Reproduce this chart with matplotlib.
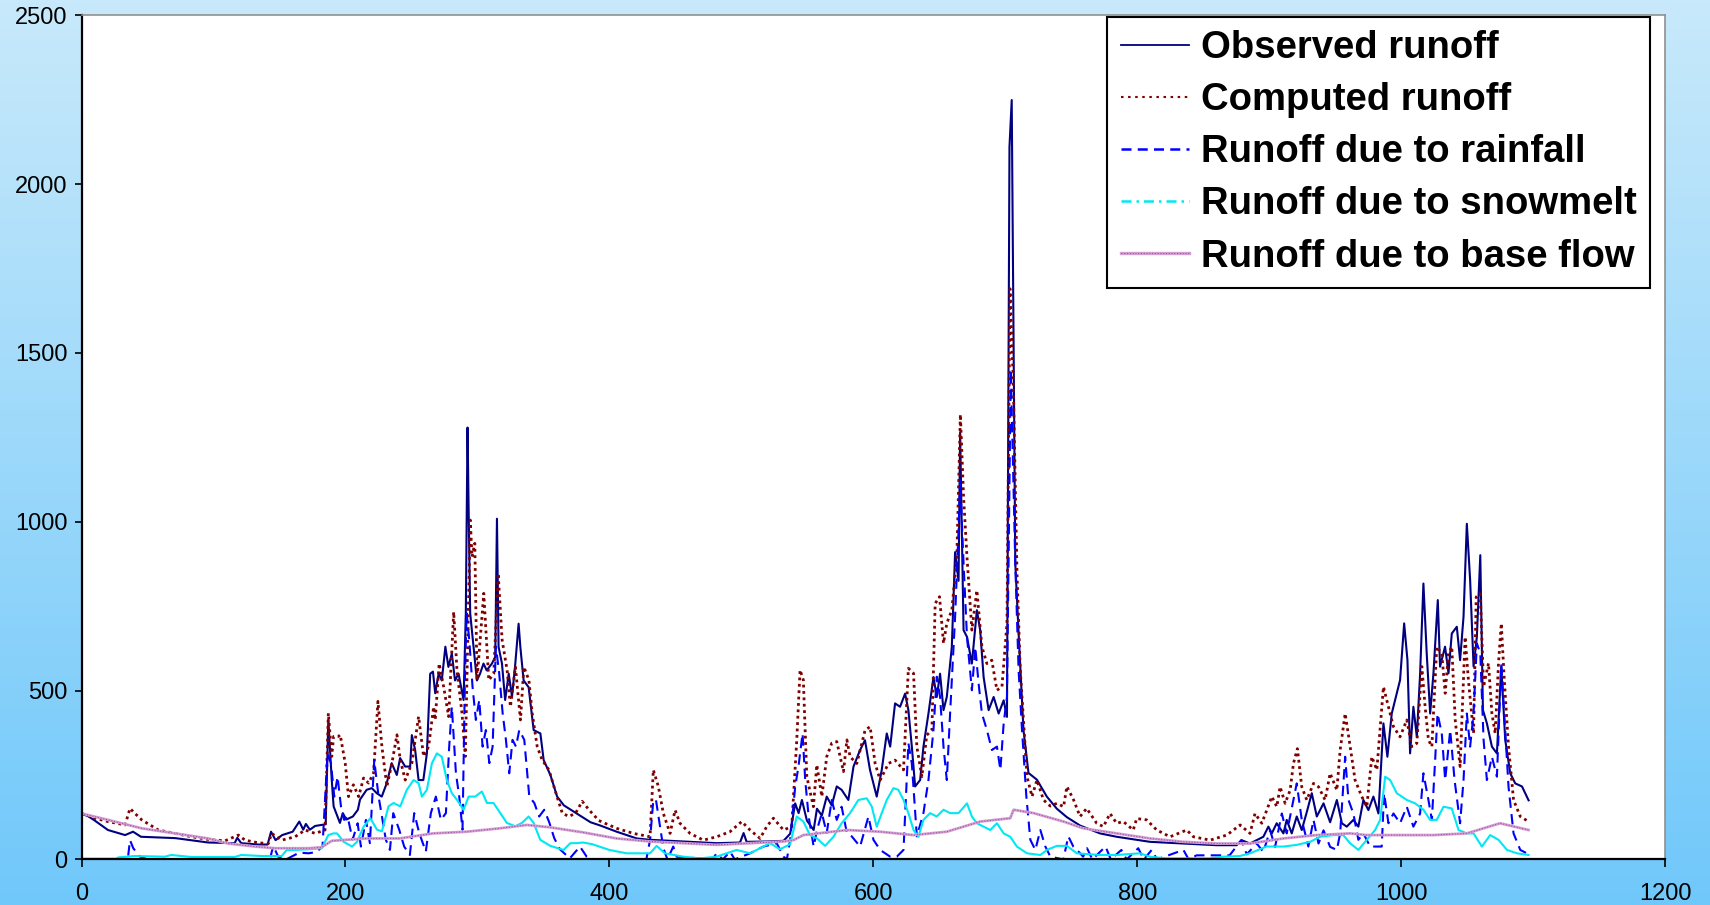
import numpy as np
import matplotlib
matplotlib.use("Agg")
import matplotlib.pyplot as plt
from matplotlib.lines import Line2D

plt.rcParams['font.family'] = ['Liberation Sans', 'DejaVu Sans']

# ---------------- data (day, runoff) ----------------
obs_day = [0, 5, 10, 20, 33, 39, 45, 71, 96, 116,
           118, 121, 134, 141, 143.6, 147, 152, 160, 165, 168,
           170, 173, 177, 182, 185, 187, 189.6, 191, 195.8, 198,
           200.6, 205.6, 209.4, 211, 216, 220, 223.7, 227.5, 231.3, 235,
           238.9, 241.4, 245.2, 249, 250.3, 252.8, 255.4, 259, 261.7, 264.2,
           266.3, 268, 270.6, 273, 275.7, 278, 280.6, 283, 285.7, 289.5,
           291.2, 292.5, 293.3, 294.5, 297, 299.6, 302, 304.6, 307, 311,
           313.5, 314.8, 316, 318.6, 321, 323.7, 326.2, 328.7, 331.2, 332.5,
           335, 338.8, 342.6, 347.7, 350.2, 355.3, 360.4, 365.5, 375.6, 385.7,
           393.3, 405.5, 420.7, 430.8, 456, 481.4, 499, 501.7, 504, 519.4,
           532, 537, 540.8, 543.4, 545.9, 549.7, 554.8, 557.3, 561, 564.7,
           568.5, 572.3, 576, 581.1, 585, 590, 593.7, 597.5, 602.6, 606.4,
           610.2, 612.8, 616.5, 620.3, 624.1, 626.6, 629.2, 631.7, 635.5, 638,
           641.8, 645.6, 648.1, 650.6, 653.2, 655.7, 659.5, 662, 664.6, 665.8,
           668.4, 671, 674.7, 678.5, 681, 683.6, 687.4, 691.2, 695, 698.8,
           701.3, 703.2, 704.9, 707.6, 710, 713.8, 717.6, 724, 731.5, 739.1,
           746.7, 756.8, 771.8, 784.4, 809.7, 835, 860.2, 875.4, 879, 885.5,
           895.6, 899.4, 902, 905.7, 910.8, 913.3, 917.1, 920.9, 924.7, 928.5,
           932.3, 936.1, 941.2, 946.2, 951.3, 955.1, 958.8, 963.8, 967.6, 971.4,
           975.2, 979, 982.8, 986.6, 989.6, 992.9, 996.7, 999.2, 1002.3, 1004.8,
           1006.8, 1009.3, 1011.9, 1014.4, 1016.9, 1019.4, 1022, 1024.5, 1027.8, 1029.5,
           1033.3, 1035.9, 1038.4, 1042.2, 1044.7, 1047.3, 1049.8, 1052.3, 1054.9, 1057.4,
           1060, 1062, 1065, 1068.8, 1072.6, 1075.9, 1078.9, 1082.7, 1086.5, 1091.6,
           1096.6]
obs_val = [135, 128, 115, 87, 72, 82, 67, 63, 50, 48,
           64, 48, 44, 44, 82, 57, 72, 82, 112, 88,
           105, 88, 99, 102, 104, 413, 235, 157, 108, 137,
           118, 127, 147, 177, 206, 211, 196, 186, 226, 285,
           250, 300, 275, 275, 368, 324, 235, 235, 314, 550,
           556, 492, 550, 530, 630, 570, 610, 530, 550, 472,
           729, 1279, 1045, 729, 630, 530, 550, 580, 560, 580,
           600, 1009, 630, 580, 472, 550, 482, 580, 698, 630,
           530, 510, 383, 373, 294, 250, 186, 160, 135, 110,
           100, 82, 62, 58, 53, 48, 50, 78, 52, 53,
           55, 76, 166, 137, 176, 115, 87, 150, 130, 186,
           160, 216, 206, 176, 275, 324, 353, 265, 186, 265,
           373, 334, 462, 452, 491, 442, 334, 216, 235, 334,
           432, 540, 481, 550, 442, 481, 629, 910, 825, 1265,
           679, 659, 580, 738, 679, 540, 442, 481, 432, 471,
           422, 2110, 2249, 877, 680, 384, 256, 236, 186, 150,
           125, 100, 77, 67, 52, 47, 42, 42, 57, 47,
           67, 97, 77, 107, 77, 117, 77, 127, 87, 140,
           196, 127, 166, 110, 176, 107, 97, 117, 97, 176,
           146, 186, 136, 403, 304, 432, 491, 531, 699, 590,
           314, 452, 363, 551, 817, 610, 432, 551, 768, 571,
           630, 551, 669, 689, 590, 719, 994, 827, 571, 659,
           901, 442, 403, 334, 314, 571, 354, 255, 225, 216,
           175]

comp_day = [0, 10, 20, 33, 36.7, 40.5, 45.6, 58.2, 70.9, 83.5,
            96.1, 108.7, 118.8, 123.9, 134, 141.6, 144, 151.7, 161.8, 169.4,
            177, 184.5, 187, 189.6, 191, 194.6, 196, 199.8, 202.3, 206,
            210, 213.7, 217.5, 221.3, 224.6, 227.6, 231.4, 235.2, 239, 241.5,
            245.3, 250.3, 255.4, 259.2, 263, 266.8, 268, 271, 274.4, 278.2,
            282, 284.5, 288.3, 290.8, 294.6, 295.9, 298, 299.7, 304.8, 308.6,
            312.4, 315.7, 318.7, 322.5, 325, 328.8, 332.6, 335.2, 339, 341.5,
            345.3, 349, 354.2, 359.2, 364.3, 369.3, 374.4, 379.4, 384.5, 392,
            405.5, 418.1, 430.8, 433.3, 437.1, 440.9, 446, 449.8, 453.5, 461.1,
            471.2, 481.3, 491.4, 500.3, 506.6, 514.2, 519.2, 524.3, 531.9, 538.2,
            542, 544.5, 547, 549.6, 554.6, 557.2, 561, 564.7, 568.5, 572.3,
            577.4, 580, 582.4, 587.5, 593.8, 597.6, 601.4, 605.2, 611.5, 616.5,
            622.9, 626.6, 630.5, 633, 636.8, 640.5, 644.4, 646.9, 650.2, 653.2,
            655.7, 659.5, 663.3, 666, 668.4, 671, 674.7, 678.5, 682.3, 686.1,
            689.8, 693.7, 697.5, 701.3, 703.6, 706.1, 708.9, 711.4, 716.5, 720.3,
            724, 729, 734.1, 739.1, 744.2, 746.7, 751.8, 756.7, 761.7, 769.3,
            774.4, 779.4, 784.4, 789.5, 797, 799.6, 807.2, 814.8, 824.9, 837.5,
            842.6, 855.2, 867.9, 878, 885.5, 889.3, 894.4, 898.2, 902, 905.8,
            908.3, 912.1, 915.9, 918.4, 921.4, 924.7, 928.5, 933.6, 937.4, 942.4,
            946.2, 951.3, 953.8, 957.6, 961.4, 965.1, 970.2, 974, 977.8, 981.6,
            986.6, 990.4, 994.2, 999.2, 1004.3, 1008.1, 1011.9, 1015.7, 1018.2, 1020.7,
            1023.3, 1027, 1030.8, 1033.4, 1035.9, 1038.4, 1041, 1044.7, 1048.5, 1051,
            1054.9, 1056.9, 1060, 1062.5, 1066.2, 1068.8, 1071.3, 1073.8, 1075.9, 1078.2,
            1081.4, 1085.2, 1090.3, 1096.6]
comp_val = [136, 122, 112, 102, 151, 136, 117, 87, 77, 67,
            59, 55, 72, 57, 49, 47, 77, 57, 67, 87,
            77, 87, 433, 305, 364, 364, 369, 285, 186, 221,
            186, 241, 226, 256, 468, 334, 216, 285, 369, 295,
            235, 285, 423, 305, 334, 452, 413, 580, 511, 423,
            733, 560, 433, 305, 1005, 896, 936, 531, 788, 531,
            550, 847, 650, 560, 452, 570, 413, 570, 531, 433,
            334, 295, 265, 200, 137, 127, 137, 172, 147, 115,
            92, 77, 67, 265, 216, 136, 77, 146, 107, 77,
            57, 67, 82, 112, 87, 62, 97, 122, 87, 97,
            354, 561, 531, 245, 156, 280, 186, 304, 344, 349,
            260, 354, 304, 284, 383, 393, 284, 235, 284, 294,
            265, 566, 551, 334, 245, 368, 383, 758, 778, 640,
            699, 738, 896, 1318, 1074, 896, 679, 797, 630, 580,
            590, 501, 511, 699, 1690, 1410, 847, 561, 245, 186,
            235, 176, 158, 166, 156, 216, 176, 127, 151, 107,
            97, 136, 107, 112, 87, 121, 117, 87, 67, 87,
            67, 57, 72, 102, 77, 136, 107, 146, 186, 156,
            215, 166, 205, 284, 328, 215, 176, 225, 215, 176,
            255, 205, 324, 432, 334, 235, 186, 156, 304, 265,
            511, 452, 393, 363, 413, 334, 344, 571, 452, 354,
            334, 630, 610, 492, 610, 630, 413, 275, 659, 531,
            373, 777, 787, 511, 581, 432, 373, 581, 699, 531,
            334, 176, 127, 112]

rain_day = [0, 35, 36.7, 39.2, 44.3, 50, 140, 143, 145.3, 149,
            155, 165, 172, 178, 182.6, 186.4, 189, 191.5, 194, 196.6,
            199, 201.6, 205.4, 209.2, 211.7, 215.5, 218.5, 221.8, 225.1, 227.6,
            230.6, 233.7, 236.2, 240.7, 244.5, 248.8, 252.1, 255.9, 260.9, 264.7,
            268.5, 272.3, 276.1, 278.6, 280.6, 283.7, 286.2, 288.7, 290.5, 291.8,
            293.8, 296.3, 298.8, 301.4, 303.9, 306.4, 309, 311.5, 314, 316.5,
            319.1, 321.6, 324.1, 326.6, 329.2, 331.7, 335.5, 339.3, 343.1, 346.8,
            350.6, 354.4, 358.2, 362.5, 370, 377.7, 382.8, 387, 428, 430.8,
            433.3, 435.3, 438.4, 440.9, 444, 448.4, 451, 478, 481.3, 486,
            491.4, 495, 506.6, 516.7, 526.8, 532, 534.5, 537, 540.8, 543.3,
            546.4, 548.4, 551, 554.8, 557.3, 561, 564.7, 568.5, 572.3, 576,
            580, 583.7, 590, 596.3, 600.1, 605.2, 612.8, 617.8, 622.9, 626.6,
            629.2, 633, 638, 641.8, 645.6, 648.1, 650.6, 653.2, 655.7, 658.2,
            662, 664.6, 665.8, 668.4, 671, 674.7, 677.3, 679.8, 682.3, 686.1,
            689.9, 693.7, 696.3, 698.8, 701.3, 704.2, 707.6, 710.1, 712.7, 716,
            719, 722.8, 726.6, 730.4, 734.2, 744, 747.8, 751.6, 756.8, 759,
            762, 766, 776, 780, 788, 792, 800.8, 805, 811, 815,
            835, 839, 845, 870, 879, 883, 890.6, 895.6, 900.7, 904.5,
            909.6, 913.3, 920.9, 924.7, 929.7, 933.6, 937.4, 941.2, 946.2, 951.3,
            953.8, 957.6, 960.1, 963.8, 967.6, 971.4, 976.5, 985.3, 987.1, 990.4,
            994.2, 999.2, 1004.3, 1009.3, 1014.4, 1016.9, 1020.7, 1023.3, 1025.8, 1027.6,
            1030.8, 1033.4, 1037.2, 1040.5, 1044.7, 1047.3, 1049.8, 1052.3, 1054.9, 1057.4,
            1060, 1062.5, 1065, 1068.8, 1072.6, 1075.9, 1078.4, 1081.4, 1085.2, 1090.3,
            1095.3]
rain_val = [0, 0, 57, 33, 8, 0, 0, 5, 40, 8,
            0, 20, 18, 22, 38, 314, 285, 186, 245, 156,
            117, 127, 58, 107, 38, 117, 48, 294, 186, 127,
            58, 28, 137, 88, 38, 13, 137, 78, 23, 137,
            186, 117, 137, 334, 452, 255, 186, 88, 531, 729,
            650, 511, 413, 472, 334, 383, 285, 334, 630, 551,
            433, 354, 255, 354, 334, 383, 354, 186, 167, 127,
            147, 110, 63, 30, 3, 38, 8, 0, 0, 57,
            176, 176, 97, 33, 0, 38, 8, 0, 18, 0,
            23, 0, 18, 38, 48, 8, 0, 57, 215, 275,
            373, 235, 127, 38, 87, 137, 78, 176, 117, 156,
            78, 68, 38, 127, 58, 28, 8, 8, 28, 344,
            284, 68, 137, 235, 383, 541, 481, 334, 235, 432,
            719, 975, 1124, 877, 659, 501, 629, 521, 432, 383,
            324, 334, 265, 403, 481, 1450, 877, 561, 383, 186,
            58, 28, 87, 38, 8, 0, 68, 38, 18, 8,
            33, 0, 38, 0, 28, 0, 33, 0, 28, 0,
            28, 0, 12, 12, 57, 15, 47, 22, 86, 37,
            136, 77, 225, 117, 38, 117, 47, 86, 37, 28,
            77, 304, 176, 136, 58, 77, 38, 38, 196, 107,
            136, 107, 156, 97, 136, 255, 176, 117, 295, 432,
            373, 235, 383, 235, 107, 235, 432, 334, 432, 640,
            610, 354, 235, 304, 245, 580, 413, 215, 77, 28,
            18]

snow_day = [0, 26, 28, 40.5, 63, 68, 83.5, 116, 121, 136.5,
            151.7, 155.5, 161.8, 172, 182, 187, 190.8, 193.6, 198.6, 205,
            208.7, 213.8, 218.8, 223.9, 227.6, 232.6, 236.4, 241.5, 246.5, 251.6,
            255.4, 257.9, 261.7, 265.5, 269.3, 273, 276.8, 280.6, 284.4, 289.5,
            293.3, 298.3, 303.4, 307.2, 312.2, 317.3, 322.3, 328.7, 333.7, 338.8,
            342.6, 347.6, 355.2, 365.3, 370.4, 375, 380, 387, 400, 413,
            430.8, 435.8, 442.1, 456, 468.7, 481.3, 496.4, 506.6, 514.2, 521.7,
            529.3, 537, 542, 547, 552, 557.3, 563.5, 569.8, 576, 582.4,
            588.7, 595, 598.8, 602.6, 606.4, 610.2, 615.3, 619, 622.9, 626.6,
            630.5, 634.2, 638, 643, 648.1, 653.2, 658.2, 664.6, 671, 674.7,
            678.5, 683.6, 688.6, 693.7, 698.8, 703.8, 708.8, 716.5, 726.6, 731.6,
            739.1, 746.7, 754.3, 771.8, 784.4, 802, 809.7, 822, 855, 865,
            877.7, 885.5, 898, 910.8, 920.9, 931, 938.5, 948.7, 956.2, 961.3,
            967.6, 974, 980.3, 984.1, 987.9, 991.7, 996.7, 1004.3, 1010.6, 1016.9,
            1022, 1027, 1032.1, 1038.4, 1043.5, 1049.8, 1054.9, 1061.2, 1067.5, 1073.8,
            1080.2, 1087.8, 1096.6]
snow_val = [2, 2, 6, 10, 8, 13, 7, 7, 13, 10,
            10, 28, 28, 30, 33, 72, 77, 77, 52, 38,
            52, 97, 122, 88, 83, 157, 167, 157, 206, 235,
            226, 186, 206, 285, 314, 304, 235, 196, 177, 147,
            186, 186, 201, 167, 167, 137, 108, 98, 108, 127,
            108, 58, 40, 28, 48, 48, 50, 45, 28, 18,
            18, 40, 18, 8, 3, 8, 28, 18, 33, 48,
            30, 45, 127, 112, 72, 62, 40, 67, 107, 137,
            176, 181, 157, 97, 137, 176, 211, 206, 176, 137,
            87, 67, 117, 137, 127, 147, 137, 137, 166, 127,
            107, 97, 87, 107, 77, 67, 38, 18, 13, 28,
            40, 40, 18, 13, 13, 18, 8, 3, 3, 8,
            10, 18, 38, 38, 43, 52, 67, 72, 72, 48,
            28, 58, 87, 117, 245, 235, 196, 176, 166, 147,
            117, 117, 156, 151, 87, 77, 77, 38, 72, 58,
            28, 18, 13]

base_day = [0, 20, 45.6, 70.9, 96, 111, 131.5, 146.6, 172, 182,
            189.6, 204.7, 216, 241, 266.5, 291.8, 317, 337.5, 355, 380,
            405.5, 430.8, 456, 481.3, 506.6, 532, 539.4, 547, 580, 605,
            630.5, 655.7, 681, 703.8, 706.3, 721.5, 744.2, 759.2, 784.4, 809.7,
            835, 860.2, 885.5, 910.8, 936, 961.4, 974, 1024.5, 1049.8, 1075,
            1096.6]
base_val = [136, 117, 92, 77, 62, 47, 38, 33, 33, 36,
            55, 59, 62, 62, 77, 82, 92, 102, 95, 80,
            62, 53, 48, 43, 48, 53, 57, 72, 87, 82,
            72, 82, 112, 122, 147, 137, 112, 92, 77, 62,
            52, 47, 47, 62, 72, 77, 72, 72, 77, 107,
            87]

labels = ["Observed runoff", "Computed runoff", "Runoff due to rainfall",
          "Runoff due to snowmelt", "Runoff due to base flow"]

# ---------------- figure with blue gradient background ----------------
fig = plt.figure(figsize=(17.1, 9.05), dpi=100)

bg = fig.add_axes([0, 0, 1, 1], zorder=-10)
top_c = np.array([200, 233, 251]) / 255.0
bot_c = np.array([112, 200, 250]) / 255.0
t = np.linspace(0, 1, 256)[:, None, None]
grad = top_c[None, None, :] * (1 - t) + bot_c[None, None, :] * t
bg.imshow(grad, aspect='auto', extent=[0, 1, 0, 1])
bg.axis('off')

ax = fig.add_axes([0.0477, 0.0504, 0.9260, 0.9327])
ax.set_facecolor('white')

# ---------------- series ----------------
ax.plot(obs_day, obs_val, color='#000080', lw=1.5, ls='-')
ax.plot(comp_day, comp_val, color='#800000', lw=2.0, ls=(0, (1, 1.3)))
ax.plot(rain_day, rain_val, color='#0000FF', lw=1.5, ls=(0, (5, 3)))
ax.plot(snow_day, snow_val, color='#00E8F4', lw=1.5, ls='-')
ax.plot(base_day, base_val, color='#D4A0D4', lw=2.0, ls='-')
ax.plot(base_day, base_val, color='#A050A0', lw=0.8, ls=(0, (1, 1.5)))

ax.set_xlim(0, 1200)
ax.set_ylim(0, 2500)
ax.set_xticks(np.arange(0, 1201, 200))
ax.set_yticks(np.arange(0, 2501, 500))

ax.tick_params(axis='y', direction='out', length=5, width=1.2, pad=5, labelsize=17)
ax.tick_params(axis='x', direction='out', length=6, width=1.2, pad=11, labelsize=17)

for s in ['left', 'bottom']:
    ax.spines[s].set_color('black')
    ax.spines[s].set_linewidth(1.6)
for s in ['top', 'right']:
    ax.spines[s].set_color('#909090')
    ax.spines[s].set_linewidth(1.2)

# ---------------- legend ----------------
h_obs = Line2D([], [], color='#000080', lw=1.3, ls='-')
h_comp = Line2D([], [], color='#800000', lw=1.5, ls=(0, (1.2, 2.2)))
h_rain = Line2D([], [], color='#0000FF', lw=1.8, ls=(0, (4, 2.5)))
h_snow = Line2D([], [], color='#00E8F4', lw=1.8, ls=(0, (4, 2, 1, 2)))
h_base1 = Line2D([], [], color='#D4A0D4', lw=2.4, ls='-')
h_base2 = Line2D([], [], color='#A050A0', lw=0.8, ls=(0, (1, 1.5)))

leg = ax.legend([h_obs, h_comp, h_rain, h_snow, (h_base1, h_base2)], labels,
                loc='upper right', bbox_to_anchor=(0.9905, 0.998),
                prop={'family': 'Liberation Sans', 'weight': 'bold', 'size': 27.5},
                handlelength=1.8, handletextpad=0.3, labelspacing=0.42,
                borderpad=0.35, borderaxespad=0, fancybox=False, framealpha=1,
                edgecolor='black')
leg.get_frame().set_linewidth(1.5)

fig.savefig('out.png', dpi=100)
